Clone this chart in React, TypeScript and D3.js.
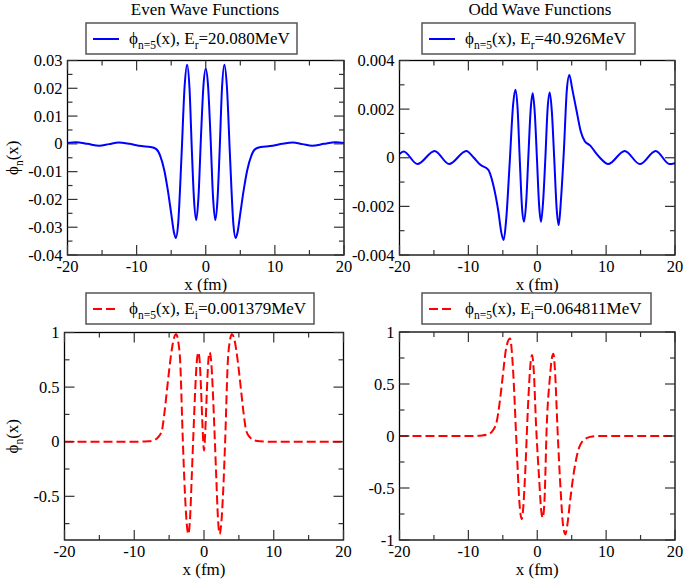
import React, { useEffect, useRef } from "react";
import * as d3 from "d3";

type Pt = [number, number];

// x axis (fm)
const xTicks = [-20, -10, 0, 10, 20];
const xMinorTicks = [-15, -5, 5, 15];

// y ticks per panel
const evenRealTicks = [-0.04, -0.03, -0.02, -0.01, 0, 0.01, 0.02, 0.03];
const evenRealMinor = [-0.035, -0.025, -0.015, -0.005, 0.005, 0.015, 0.025];
const oddRealTicks = [-0.004, -0.002, 0, 0.002, 0.004];
const oddRealMinor = [-0.003, -0.001, 0.001, 0.003];
const evenImagTicks = [-0.5, 0, 0.5, 1];
const evenImagMinor = [-0.75, -0.25, 0.25, 0.75];
const oddImagTicks = [-1, -0.5, 0, 0.5, 1];
const oddImagMinor = [-0.75, -0.25, 0.25, 0.75];

// legend energies
const energies = ["20.080MeV", "40.926MeV", "0.001379MeV", "0.064811MeV"];

// [x (fm), phi]
const evenReal: Pt[] = [
  [-20, 0.0003], [-18.8, 0.0006], [-17.1, 0.0], [-15.4, -0.0007], [-14.0, -0.0001],
  [-12.6, 0.0005], [-11.0, 0.0], [-9.3, -0.0008], [-8.0, -0.0011], [-7.2, -0.0018],
  [-6.6, -0.0042], [-6.0, -0.0095], [-5.5, -0.0165], [-5.0, -0.025], [-4.6, -0.0318],
  [-4.32, -0.0339], [-4.0, -0.029], [-3.5, -0.004], [-3.05, 0.021], [-2.69, 0.0285],
  [-2.35, 0.02], [-2.0, -0.003], [-1.7, -0.02], [-1.38, -0.0274], [-1.05, -0.019],
  [-0.7, 0.002], [-0.33, 0.021], [0, 0.027], [0.33, 0.021], [0.7, 0.002],
  [1.05, -0.019], [1.38, -0.0274], [1.7, -0.02], [2.0, -0.003], [2.35, 0.02],
  [2.69, 0.0285], [3.05, 0.021], [3.5, -0.004], [4.0, -0.029], [4.32, -0.0339],
  [4.6, -0.0318], [5.0, -0.025], [5.5, -0.0165], [6.0, -0.0095], [6.6, -0.0042],
  [7.2, -0.0018], [8.0, -0.0011], [9.3, -0.0008], [11.0, 0.0], [12.6, 0.0005],
  [14.0, -0.0001], [15.4, -0.0007], [17.1, 0.0], [18.8, 0.0006], [20, 0.0003],
];

const oddReal: Pt[] = [
  [-20, 0.00015], [-19.4, 0.00026], [-17.4, -0.00026], [-14.9, 0.00028], [-12.8, -0.00026],
  [-10.3, 0.00028], [-9.2, 0.0], [-8.3, -0.00028], [-7.1, -0.0005], [-6.4, -0.0011],
  [-5.65, -0.0022], [-5.2, -0.0031], [-4.87, -0.00338], [-4.5, -0.0025], [-4.0, -0.0002],
  [-3.5, 0.0022], [-3.17, 0.0028], [-2.85, 0.002], [-2.55, 0.0], [-2.2, -0.0021],
  [-1.92, -0.00263], [-1.6, -0.0018], [-1.3, 0.0], [-0.95, 0.002], [-0.66, 0.00265],
  [-0.35, 0.0018], [-0.05, 0.0], [0.28, -0.002], [0.55, -0.00263], [0.85, -0.0018],
  [1.18, 0.0], [1.5, 0.002], [1.81, 0.00268], [2.12, 0.0019], [2.46, 0.0],
  [2.82, -0.0021], [3.12, -0.00277], [3.45, -0.0017], [3.85, 0.0002], [4.3, 0.0028],
  [4.66, 0.0034], [5.1, 0.0028], [5.73, 0.0019], [6.3, 0.0011], [6.9, 0.00068],
  [7.7, 0.0005], [8.5, 0.0002], [9.1, 0.0], [10.3, -0.00026], [12.7, 0.00028],
  [14.9, -0.00026], [17.2, 0.00028], [19.2, -0.00026], [20, -0.00022],
];

const evenImag: Pt[] = [
  [-20, 0], [-10, 0], [-8, 0.004], [-7.25, 0.012], [-6.6, 0.04], [-6.05, 0.1],
  [-5.7, 0.25], [-5.33, 0.46], [-4.95, 0.68], [-4.6, 0.85], [-4.3, 0.95], [-4.0, 0.983],
  [-3.7, 0.92], [-3.42, 0.74], [-3.03, 0], [-2.75, -0.45], [-2.5, -0.73], [-2.24, -0.846],
  [-2.0, -0.7], [-1.75, -0.31], [-1.5, 0.1], [-1.27, 0.46], [-1.05, 0.72], [-0.8, 0.818],
  [-0.6, 0.72], [-0.41, 0.46], [-0.2, 0.12], [0, -0.08], [0.2, 0.12], [0.41, 0.46],
  [0.6, 0.72], [0.8, 0.818], [1.05, 0.72], [1.27, 0.46], [1.5, 0.1], [1.75, -0.31],
  [2.0, -0.7], [2.24, -0.846], [2.5, -0.73], [2.75, -0.45], [3.03, 0], [3.42, 0.74],
  [3.7, 0.92], [4.0, 0.983], [4.3, 0.95], [4.6, 0.85], [4.95, 0.68], [5.33, 0.46],
  [5.7, 0.25], [6.05, 0.1], [6.6, 0.04], [7.25, 0.012], [8, 0.004], [10, 0], [20, 0],
];

const oddImag: Pt[] = [
  [-20, 0], [-10, 0], [-8, 0.005], [-7.2, 0.015], [-6.6, 0.04], [-5.88, 0.14],
  [-5.5, 0.3], [-5.15, 0.49], [-4.8, 0.7], [-4.53, 0.84], [-3.95, 0.937], [-3.7, 0.82],
  [-3.47, 0.585], [-2.98, -0.12], [-2.6, -0.63], [-2.25, -0.8], [-2.0, -0.66], [-1.77, -0.38],
  [-1.29, 0.36], [-1.0, 0.68], [-0.75, 0.78], [-0.5, 0.62], [-0.17, 0.1], [0.3, -0.44],
  [0.55, -0.7], [0.8, -0.785], [1.05, -0.62], [1.38, 0.1], [1.86, 0.58], [2.1, 0.74],
  [2.34, 0.79], [2.6, 0.6], [2.92, 0.1], [3.41, -0.54], [3.75, -0.86], [4.08, -0.946],
  [4.4, -0.84], [4.76, -0.63], [5.1, -0.45], [5.49, -0.28], [6.21, -0.09], [7.18, -0.02],
  [8, -0.005], [9.1, 0], [20, 0],
];

const FONT = "'Liberation Serif', 'Times New Roman', serif";
const PHI = "\u03d5";

interface PanelCfg {
  data: Pt[];
  left: number;
  right: number;
  top: number;
  bottom: number;
  yDomain: [number, number];
  yTicks: number[];
  yMinor: number[];
  color: string;
  dash: string | null;
  yLabel: boolean;
  legend: { x: number; y: number; w: number; sub: string; energy: string };
}

const panels: PanelCfg[] = [
  {
    data: evenReal, left: 67.5, right: 344, top: 60.5, bottom: 255,
    yDomain: [-0.04, 0.03], yTicks: evenRealTicks, yMinor: evenRealMinor,
    color: "#0000ff", dash: null, yLabel: true,
    legend: { x: 86, y: 23, w: 211, sub: "r", energy: energies[0] },
  },
  {
    data: oddReal, left: 399.5, right: 675, top: 60.5, bottom: 255,
    yDomain: [-0.004, 0.004], yTicks: oddRealTicks, yMinor: oddRealMinor,
    color: "#0000ff", dash: null, yLabel: false,
    legend: { x: 422, y: 23, w: 213, sub: "r", energy: energies[1] },
  },
  {
    data: evenImag, left: 64.5, right: 343.5, top: 332.5, bottom: 540,
    yDomain: [-0.9, 1], yTicks: evenImagTicks, yMinor: evenImagMinor,
    color: "#ff0000", dash: "9,4", yLabel: true,
    legend: { x: 86, y: 293, w: 228, sub: "i", energy: energies[2] },
  },
  {
    data: oddImag, left: 399.5, right: 675, top: 332, bottom: 540,
    yDomain: [-1, 1], yTicks: oddImagTicks, yMinor: oddImagMinor,
    color: "#ff0000", dash: "9,4", yLabel: false,
    legend: { x: 422, y: 293, w: 229, sub: "i", energy: energies[3] },
  },
];

const fmt = (v: number) => (v === 0 ? "0" : String(+v.toFixed(4)));

function drawPanel(root: d3.Selection<SVGSVGElement, unknown, null, undefined>, p: PanelCfg, i: number) {
  const x = d3.scaleLinear().domain([-20, 20]).range([p.left, p.right]);
  const y = d3.scaleLinear().domain(p.yDomain).range([p.bottom, p.top]);
  const g = root.append("g");

  g.append("clipPath")
    .attr("id", `clip${i}`)
    .append("rect")
    .attr("x", p.left)
    .attr("y", p.top)
    .attr("width", p.right - p.left)
    .attr("height", p.bottom - p.top);

  const line = d3
    .line<Pt>()
    .x((d) => x(d[0]))
    .y((d) => y(d[1]))
    .curve(d3.curveMonotoneX);

  g.append("path")
    .datum(p.data)
    .attr("clip-path", `url(#clip${i})`)
    .attr("d", line)
    .attr("fill", "none")
    .attr("stroke", p.color)
    .attr("stroke-width", 2)
    .attr("stroke-dasharray", p.dash);

  // frame
  g.append("rect")
    .attr("x", p.left)
    .attr("y", p.top)
    .attr("width", p.right - p.left)
    .attr("height", p.bottom - p.top)
    .attr("fill", "none")
    .attr("stroke", "#000")
    .attr("stroke-width", 1.3);

  const tickColor = "#333";
  const addX = (vals: number[], len: number) => {
    vals.forEach((v) => {
      g.append("line").attr("x1", x(v)).attr("x2", x(v)).attr("y1", p.bottom).attr("y2", p.bottom - len)
        .attr("stroke", tickColor).attr("stroke-width", 1.2);
      g.append("line").attr("x1", x(v)).attr("x2", x(v)).attr("y1", p.top).attr("y2", p.top + len)
        .attr("stroke", tickColor).attr("stroke-width", 1.2);
    });
  };
  const addY = (vals: number[], len: number) => {
    vals.forEach((v) => {
      g.append("line").attr("x1", p.left).attr("x2", p.left + len).attr("y1", y(v)).attr("y2", y(v))
        .attr("stroke", tickColor).attr("stroke-width", 1.2);
      g.append("line").attr("x1", p.right).attr("x2", p.right - len).attr("y1", y(v)).attr("y2", y(v))
        .attr("stroke", tickColor).attr("stroke-width", 1.2);
    });
  };
  addX(xTicks, 10);
  addX(xMinorTicks, 5);
  addY(p.yTicks, 10);
  addY(p.yMinor, 5);

  // tick labels
  g.selectAll(".xl")
    .data(xTicks)
    .enter()
    .append("text")
    .attr("x", (d) => x(d))
    .attr("y", p.bottom + 17)
    .attr("text-anchor", "middle")
    .style("font-family", FONT)
    .style("font-size", "16.5px")
    .text((d) => String(d));

  g.selectAll(".yl")
    .data(p.yTicks)
    .enter()
    .append("text")
    .attr("x", p.left - 5)
    .attr("y", (d) => y(d) + 5.5)
    .attr("text-anchor", "end")
    .style("font-family", FONT)
    .style("font-size", "16.5px")
    .text((d) => fmt(d));

  // axis labels
  g.append("text")
    .attr("x", (p.left + p.right) / 2)
    .attr("y", p.bottom + 35)
    .attr("text-anchor", "middle")
    .style("font-family", FONT)
    .style("font-size", "17px")
    .text("x (fm)");

  if (p.yLabel) {
    const cy = (p.top + p.bottom) / 2;
    const t = g.append("text")
      .attr("transform", `translate(18,${cy}) rotate(-90)`)
      .attr("text-anchor", "middle")
      .style("font-family", FONT)
      .style("font-size", "17px");
    t.append("tspan").text(PHI);
    t.append("tspan").attr("dy", 5).style("font-size", "11.5px").text("n");
    t.append("tspan").attr("dy", -5).text("(x)");
  }

  // legend
  const L = p.legend;
  g.append("rect")
    .attr("x", L.x)
    .attr("y", L.y)
    .attr("width", L.w)
    .attr("height", 31)
    .attr("fill", "#fff")
    .attr("stroke", "#555")
    .attr("stroke-width", 1.5);
  g.append("line")
    .attr("x1", L.x + 7)
    .attr("x2", L.x + 33)
    .attr("y1", L.y + 16)
    .attr("y2", L.y + 16)
    .attr("stroke", p.color)
    .attr("stroke-width", 2)
    .attr("stroke-dasharray", p.dash);
  const lt = g.append("text")
    .attr("x", L.x + 43)
    .attr("y", L.y + 20.5)
    .style("font-family", FONT)
    .style("font-size", "17px");
  lt.append("tspan").text(PHI);
  lt.append("tspan").attr("dy", 5).style("font-size", "11.5px").text("n=5");
  lt.append("tspan").attr("dy", -5).text("(x), E");
  lt.append("tspan").attr("dy", 5).style("font-size", "11.5px").text(L.sub);
  lt.append("tspan").attr("dy", -5).text("=" + L.energy);
}

const App: React.FC = () => {
  const svgRef = useRef<SVGSVGElement>(null);

  useEffect(() => {
    if (!svgRef.current) return;
    const svg = d3.select(svgRef.current);
    svg.selectAll("*").remove();

    svg.append("rect").attr("width", 685).attr("height", 581).attr("fill", "#fff");

    panels.forEach((p, i) => drawPanel(svg, p, i));

    // column titles
    [["Even Wave Functions", 205], ["Odd Wave Functions", 540]].forEach(([label, cx]) => {
      svg.append("text")
        .attr("x", cx as number)
        .attr("y", 14.5)
        .attr("text-anchor", "middle")
        .style("font-family", FONT)
        .style("font-size", "17px")
        .text(label as string);
    });
  }, []);

  return (
    <svg
      ref={svgRef}
      width={685}
      height={581}
      style={{ position: "absolute", left: 0, top: 0 }}
    />
  );
};

export default App;
